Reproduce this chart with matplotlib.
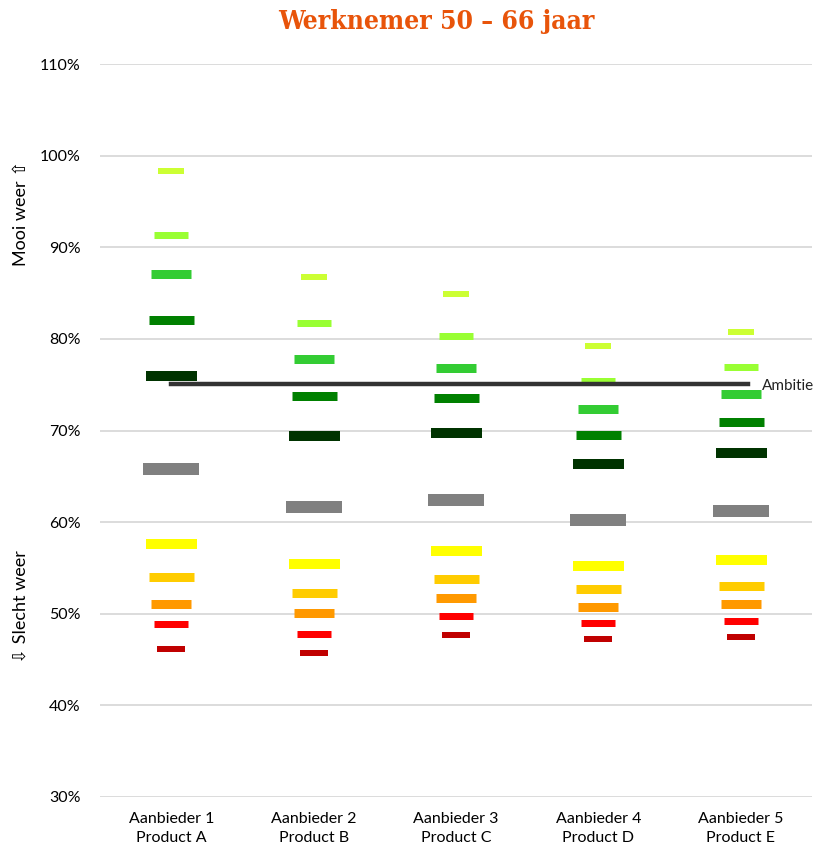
import matplotlib.pyplot as plt

# categories
labels = ['Aanbieder 1\nProduct A', 'Aanbieder 2\nProduct B', 'Aanbieder 3\nProduct C',
          'Aanbieder 4\nProduct D', 'Aanbieder 5\nProduct E']

# score levels, top to bottom (percent)
lvl_1 = [98.3, 86.8, 84.9, 79.2, 80.7]
lvl_2 = [91.3, 81.7, 80.3, 75.4, 76.9]
lvl_3 = [87.1, 77.8, 76.8, 72.4, 74.0]
lvl_4 = [82.1, 73.8, 73.5, 69.5, 70.9]
lvl_5 = [75.9, 69.4, 69.7, 66.3, 67.5]
lvl_6 = [65.8, 61.6, 62.4, 60.2, 61.2]
lvl_7 = [57.6, 55.4, 56.8, 55.2, 55.9]
lvl_8 = [54.0, 52.3, 53.8, 52.7, 53.0]
lvl_9 = [51.1, 50.1, 51.7, 50.7, 51.1]
lvl_10 = [48.9, 47.8, 49.8, 49.0, 49.2]
lvl_11 = [46.2, 45.7, 47.7, 47.2, 47.5]
levels = [lvl_1, lvl_2, lvl_3, lvl_4, lvl_5, lvl_6, lvl_7, lvl_8, lvl_9, lvl_10, lvl_11]

ambitie = 75.1

# style per level: colour, width (px), thickness (px)
colors = ['#CCFF33', '#99FF33', '#33CC33', '#008000', '#003300', '#808080',
          '#FFFF00', '#FFCC00', '#FF9900', '#FF0000', '#C00000']
widths = [27, 34, 40, 45, 51, 56, 51, 45, 40, 34, 28]
thick = [6, 7, 9, 9, 10, 12, 10, 9, 9, 7, 6]

plt.rcParams['font.family'] = ['Lato', 'DejaVu Sans']

fig = plt.figure(figsize=(8.22, 8.5), dpi=100)
ax = fig.add_axes([100 / 822, 1 - 797 / 850, 712 / 822, 733 / 850])

x = list(range(len(labels)))
px = 72 / 100  # points per pixel
for vals, c, w, t in zip(levels, colors, widths, thick):
    ax.plot(x, vals, ls='none', marker='_', color=c,
            ms=w * px, mew=t * px, zorder=3)

ax.plot([x[0], x[-1] + 0.05], [ambitie, ambitie], color='#333333', lw=3.2, zorder=4)
ax.text(x[-1] + 0.15, ambitie - 0.2, 'Ambitie', fontsize=11, va='center', ha='left',
        color='#222222', zorder=5)

ax.set_xlim(-0.5, len(labels) - 0.5)
ax.set_ylim(30, 110)
ax.set_yticks(range(30, 111, 10))
ax.set_yticklabels([f'{v}%' for v in range(30, 111, 10)], fontsize=11.5)
ax.set_xticks(x)
ax.set_xticklabels(labels, fontsize=11.5, linespacing=1.45)
ax.tick_params(axis='x', length=0, pad=11)
ax.tick_params(axis='y', length=0, pad=14)
ax.grid(axis='y', color='#D9D9D9', lw=1.3)
ax.set_axisbelow(True)
for s in ax.spines.values():
    s.set_visible(False)

fig.text(21 / 822, 1 - 213 / 850, 'Mooi weer \u21e7', rotation=90, fontsize=13,
         ha='center', va='center')
fig.text(21 / 822, 1 - 607 / 850, '\u21e9 Slecht weer', rotation=90, fontsize=13,
         ha='center', va='center')

fig.text(436 / 822, 1 - 22 / 850, 'Werknemer 50 \u2013 66 jaar', fontsize=19,
         family='DejaVu Serif', fontstretch='condensed', fontweight='semibold',
         color='#E8540A', ha='center', va='center')

fig.savefig('out.png', dpi=100)
